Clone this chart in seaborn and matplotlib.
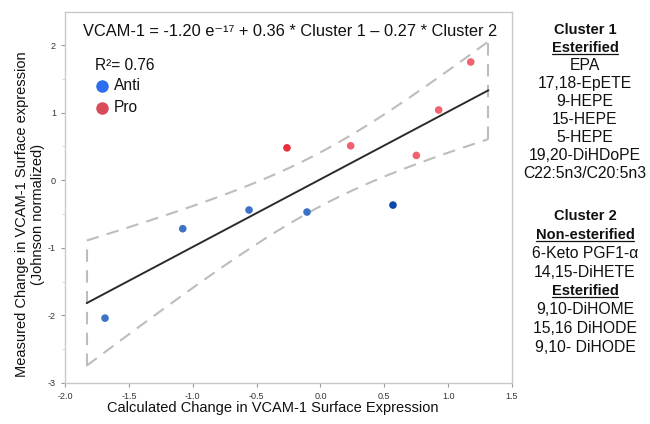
import numpy as np
import pandas as pd
import matplotlib
matplotlib.use("Agg")
import matplotlib.pyplot as plt
import seaborn as sns
from matplotlib.lines import Line2D

# ---- data ----
calculated = [-1.687, -1.078, -0.559, -0.105, 0.568, -0.262, 0.237, 0.751, 0.926, 1.177]
measured = [-2.04, -0.717, -0.44, -0.47, -0.367, 0.48, 0.51, 0.368, 1.04, 1.75]
group = ["Anti", "Anti", "Anti", "Anti", "Anti", "Pro", "Pro", "Pro", "Pro", "Pro"]
tone = ["a1", "a1", "a1", "a1", "a2", "p1", "p2", "p2", "p2", "p2"]
fit_range = [-1.83, 1.315]
t_crit = 2.306  # t(0.975, df=8)

equation = "VCAM-1 = -1.20 e⁻¹⁷ + 0.36 * Cluster 1 – 0.27 * Cluster 2"
r2_text = "R²= 0.76"
xlabel = "Calculated Change in VCAM-1 Surface Expression"
ylabel = "Measured Change in VCAM-1 Surface expression\n(Johnson normalized)"
xticks = [-2.0, -1.5, -1.0, -0.5, 0.0, 0.5, 1.0, 1.5]
yticks = [-3, -2, -1, 0, 1, 2]

cluster1 = [
    ("Cluster 1", "bold"),
    ("Esterified", "under"),
    ("EPA", "n"),
    ("17,18-EpETE", "n"),
    ("9-HEPE", "n"),
    ("15-HEPE", "n"),
    ("5-HEPE", "n"),
    ("19,20-DiHDoPE", "n"),
    ("C22:5n3/C20:5n3", "n"),
]
cluster2 = [
    ("Cluster 2", "bold"),
    ("Non-esterified", "under"),
    ("6-Keto PGF1-α", "n"),
    ("14,15-DiHETE", "n"),
    ("Esterified", "under"),
    ("9,10-DiHOME", "n"),
    ("15,16 DiHODE", "n"),
    ("9,10- DiHODE", "n"),
]

palette = {"a1": "#3d73c7", "a2": "#0b47a8", "p1": "#e8303c", "p2": "#f0626f"}
legend_colors = {"Anti": "#2b6ef0", "Pro": "#d94b57"}

sns.set_theme(style="white")
plt.rcParams["font.family"] = ["Liberation Sans", "DejaVu Sans"]

df = pd.DataFrame({"calc": calculated, "meas": measured, "group": group, "tone": tone})

W, H = 650, 424
fig = plt.figure(figsize=(6.5, 4.24), dpi=100)
ax = fig.add_axes([65 / W, 1 - 383 / H, 447 / W, 371 / H])

def fx(px):
    return px / W

def fy(py):
    return 1 - py / H

# fit and 95% confidence band
x = np.array(calculated)
y = np.array(measured)
slope, intercept = np.polyfit(x, y, 1)
n = len(x)
resid = y - (slope * x + intercept)
s = np.sqrt(np.sum(resid ** 2) / (n - 2))
sxx = np.sum((x - x.mean()) ** 2)
xs = np.linspace(fit_range[0], fit_range[1], 200)
yfit = slope * xs + intercept
half = t_crit * s * np.sqrt(1 / n + (xs - x.mean()) ** 2 / sxx)
upper = yfit + half
lower = yfit - half

band_kw = dict(color="#bdbdbd", lw=1.5, dashes=(6, 4))
ax.plot(xs, upper, **band_kw)
ax.plot(xs, lower, **band_kw)
ax.plot([xs[0], xs[0]], [lower[0], upper[0]], **band_kw)
ax.plot([xs[-1], xs[-1]], [lower[-1], upper[-1]], **band_kw)
sns.lineplot(x=xs, y=yfit, ax=ax, color="#2b2b2b", lw=1.4)

sns.scatterplot(data=df, x="calc", y="meas", hue="tone", palette=palette,
                s=30, edgecolor="none", legend=False, ax=ax, zorder=5)

ax.set_xlim(-2.0, 1.5)
ax.set_ylim(-3.0, 2.49)
ax.set_xticks(xticks)
ax.set_xticklabels([f"{t:.1f}" for t in xticks])
ax.set_yticks(yticks)
ax.set_yticklabels([str(t) for t in yticks])
ax.set_yticks(np.arange(-2.5, 2.5, 1.0), minor=True)
ax.tick_params(axis="both", which="major", labelsize=6.5, labelcolor="#333333",
               color="#9a9a9a", length=3, width=0.8, direction="out", bottom=True, left=True)
ax.tick_params(axis="y", which="minor", color="#cfcfcf", length=2, width=0.6, left=True)
for sp in ax.spines.values():
    sp.set_color("#c8c8c8")
    sp.set_linewidth(1.0)

ax.set_xlabel("")
ax.set_ylabel("")
fig.text(fx(273), fy(408), xlabel, ha="center", va="center", fontsize=10.5, color="#111111")
fig.text(fx(30), fy(214), ylabel, ha="center", va="center", rotation=90,
         fontsize=10.5, color="#111111", linespacing=1.15, multialignment="center")

fig.text(fx(290), fy(31), equation, ha="center", va="center", fontsize=11.8, color="#111111")

# legend block
fig.text(fx(95), fy(65), r2_text, ha="left", va="center", fontsize=11.2, color="#111111")
for lab, py in zip(["Anti", "Pro"], [86, 108]):
    fig.add_artist(Line2D([fx(102)], [fy(py)], transform=fig.transFigure, marker="o",
                          ls="none", markersize=9, markeredgewidth=0,
                          color=legend_colors[lab]))
    fig.text(fx(114), fy(py), lab, ha="left", va="center", fontsize=11.2, color="#111111")

# right-hand panel
fig.canvas.draw()
renderer = fig.canvas.get_renderer()
cx = fx(585)

def draw_block(items, start, step):
    for i, (txt, kind) in enumerate(items):
        py = start + i * step
        bold = kind in ("bold", "under")
        t = fig.text(cx, fy(py), txt, ha="center", va="center",
                     fontsize=10.5 if bold else 11.3,
                     fontweight="bold" if bold else "normal", color="#111111")
        if kind == "under":
            bb = t.get_window_extent(renderer=renderer)
            inv = fig.transFigure.inverted()
            (x0f, y0f), (x1f, _) = inv.transform([[bb.x0, bb.y0], [bb.x1, bb.y1]])
            fig.add_artist(Line2D([x0f, x1f], [y0f + 0.003, y0f + 0.003],
                                  transform=fig.transFigure, color="#111111", lw=0.9))

draw_block(cluster1, 30, 17.9)
draw_block(cluster2, 216, 18.8)

fig.savefig("out.png", dpi=100)
